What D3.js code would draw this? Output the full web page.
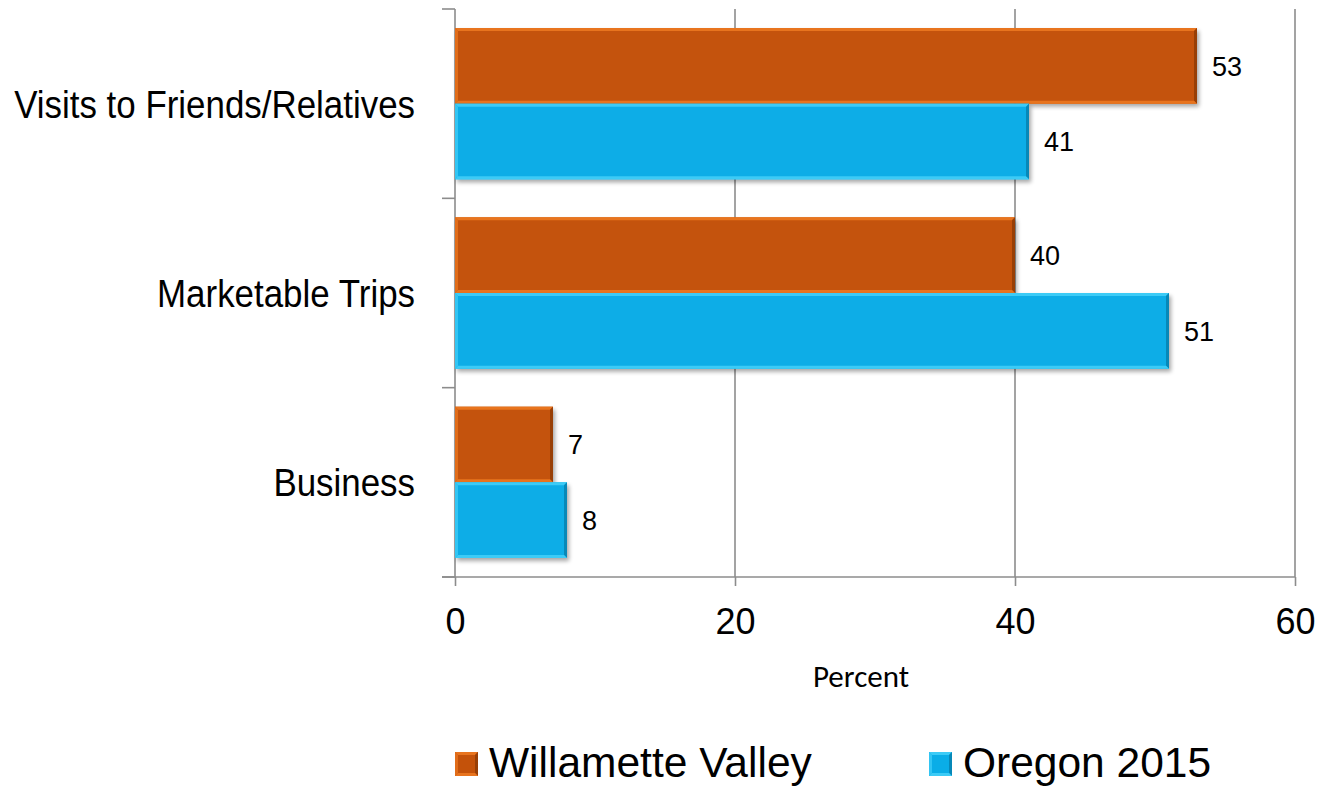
<!DOCTYPE html>
<html>
<head>
<meta charset="utf-8">
<script src="https://cdn.jsdelivr.net/npm/d3@7"></script>
<style>
  html, body { margin: 0; padding: 0; background: #fff; }
  svg { display: block; }
</style>
</head>
<body>
<svg id="chart" width="1320" height="787"></svg>
<script>
// Trip purpose shares, in percent
const categories = ["Visits to Friends/Relatives", "Marketable Trips", "Business"];
const seriesNames = ["Willamette Valley", "Oregon 2015"];
const willametteValley = [53, 40, 7];
const oregon2015 = [41, 51, 8];
const xTicks = [0, 20, 40, 60];
const axisTitle = "Percent";

const seriesValues = [willametteValley, oregon2015];
const palette = [
  { fill: "#C4520A", light: "#E8741E", dark: "#983F06" },
  { fill: "#0AADE7", light: "#3CCBF6", dark: "#0788B8" }
];

const svg = d3.select("#chart");
const plot = { left: 455, right: 1295, top: 9, bottom: 577 };

const x = d3.scaleLinear().domain([0, 60]).range([plot.left, plot.right]);
const y = d3.scaleBand().domain(categories).range([plot.top, plot.bottom]).padding(0);
const ySub = d3.scaleBand().domain(seriesNames).range([19, y.bandwidth() - 19]).padding(0);

const axisColor = "#8c8c8c";
const sans = "'Liberation Sans', Arial, sans-serif";

// Drop shadow used under the bars
const defs = svg.append("defs");
const shadow = defs.append("filter").attr("id", "barShadow")
  .attr("x", "-10%").attr("y", "-10%").attr("width", "130%").attr("height", "140%");
shadow.append("feGaussianBlur").attr("in", "SourceAlpha").attr("stdDeviation", 2.2).attr("result", "b");
shadow.append("feOffset").attr("in", "b").attr("dx", 2).attr("dy", 3).attr("result", "o");
shadow.append("feComponentTransfer").attr("in", "o").attr("result", "s")
  .append("feFuncA").attr("type", "linear").attr("slope", 0.35);
const merge = shadow.append("feMerge");
merge.append("feMergeNode").attr("in", "s");
merge.append("feMergeNode").attr("in", "SourceGraphic");

// Vertical gridlines
svg.append("g").selectAll("line")
  .data(xTicks.filter(t => t > 0))
  .join("line")
  .attr("x1", d => x(d)).attr("x2", d => x(d))
  .attr("y1", plot.top).attr("y2", plot.bottom)
  .attr("stroke", axisColor).attr("stroke-width", 1.6);

// Bottom axis
const xAxis = svg.append("g")
  .attr("transform", `translate(0,${plot.bottom})`)
  .call(d3.axisBottom(x).tickValues(xTicks).tickSize(9).tickPadding(22).tickSizeOuter(0));
xAxis.select(".domain").remove();
xAxis.selectAll(".tick line").attr("stroke", axisColor).attr("stroke-width", 1.6);
xAxis.selectAll(".tick text")
  .attr("font-family", sans)
  .attr("font-size", 36).attr("fill", "#000");
svg.append("line")
  .attr("x1", plot.left - 13).attr("x2", plot.right)
  .attr("y1", plot.bottom).attr("y2", plot.bottom)
  .attr("stroke", axisColor).attr("stroke-width", 1.6);

// Left axis with ticks at the category boundaries
svg.append("line")
  .attr("x1", plot.left).attr("x2", plot.left)
  .attr("y1", plot.top).attr("y2", plot.bottom)
  .attr("stroke", axisColor).attr("stroke-width", 1.6);
const boundaries = categories.map(c => y(c)).concat([y.range()[1]]);
svg.append("g").selectAll("line")
  .data(boundaries)
  .join("line")
  .attr("x1", plot.left - 13).attr("x2", plot.left)
  .attr("y1", d => d).attr("y2", d => d)
  .attr("stroke", axisColor).attr("stroke-width", 1.6);

// Category labels (narrowed type)
const labelRight = 415;
const squeeze = 0.895;
svg.append("g").selectAll("text")
  .data(categories)
  .join("text")
  .attr("transform", d => `translate(${labelRight},${y(d) + y.bandwidth() / 2}) scale(${squeeze},1)`)
  .attr("dy", "0.36em")
  .attr("text-anchor", "end")
  .attr("font-family", sans)
  .attr("font-size", 39)
  .attr("fill", "#000")
  .text(d => d);

// Bars with a bevelled edge
const bev = 3;
function drawBar(g, x0, y0, w, h, c) {
  g.append("rect").attr("x", x0).attr("y", y0).attr("width", w).attr("height", h)
    .attr("fill", c.fill).attr("filter", "url(#barShadow)");
  const b = Math.min(bev, w / 2);
  // top + left highlight
  g.append("polygon")
    .attr("points", [[x0, y0], [x0 + w, y0], [x0 + w - b, y0 + b], [x0 + b, y0 + b]].join(" "))
    .attr("fill", c.light);
  g.append("polygon")
    .attr("points", [[x0, y0], [x0 + b, y0 + b], [x0 + b, y0 + h - b], [x0, y0 + h]].join(" "))
    .attr("fill", c.light).attr("opacity", 0.8);
  // right shade + bottom rim
  g.append("polygon")
    .attr("points", [[x0 + w, y0], [x0 + w, y0 + h], [x0 + w - b, y0 + h - b], [x0 + w - b, y0 + b]].join(" "))
    .attr("fill", c.dark);
  g.append("polygon")
    .attr("points", [[x0, y0 + h], [x0 + w, y0 + h], [x0 + w - b, y0 + h - b], [x0 + b, y0 + h - b]].join(" "))
    .attr("fill", c.light);
}

const barsG = svg.append("g");
categories.forEach((cat, i) => {
  seriesNames.forEach((s, j) => {
    const v = seriesValues[j][i];
    const y0 = y(cat) + ySub(s);
    const h = ySub.bandwidth();
    const w = x(v) - x(0);
    const g = barsG.append("g");
    drawBar(g, x(0), y0, w, h, palette[j]);
    barsG.append("text")
      .attr("x", x(v) + 15)
      .attr("y", y0 + h / 2)
      .attr("dy", "0.36em")
      .attr("font-family", sans)
      .attr("font-size", 27)
      .attr("fill", "#000")
      .text(v);
  });
});

// Axis title
svg.append("text")
  .attr("x", 861).attr("y", 687)
  .attr("text-anchor", "middle")
  .attr("font-family", "Carlito, 'Open Sans', sans-serif")
  .attr("font-size", 31)
  .attr("fill", "#000")
  .text(axisTitle);

// Legend
const legendX = [455, 929];
const legend = svg.append("g");
seriesNames.forEach((s, j) => {
  const g = legend.append("g");
  drawBar(g, legendX[j], 752, 23, 24, palette[j]);
  g.select("rect").attr("filter", null);
  g.append("text")
    .attr("x", legendX[j] + 34).attr("y", 777)
    .attr("font-family", sans)
    .attr("font-size", 42.5)
    .attr("fill", "#000")
    .text(s);
});
</script>
</body>
</html>
